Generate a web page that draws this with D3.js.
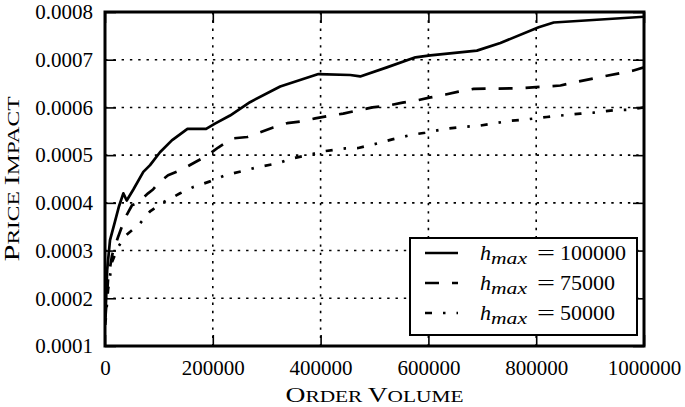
<!DOCTYPE html>
<html><head><meta charset="utf-8">
<script src="https://cdn.jsdelivr.net/npm/d3@7/dist/d3.min.js"></script>
<style>body{margin:0;background:#fff}svg{display:block}</style>
</head><body>
<svg id="chart" width="685" height="407"></svg>
<script>
// ---- data ----
const xTickValues = [0, 200000, 400000, 600000, 800000, 1000000];
const yTickValues = [0.0001, 0.0002, 0.0003, 0.0004, 0.0005, 0.0006, 0.0007, 0.0008];
const seriesNames = ["100000", "75000", "50000"];

const volume100k = [500, 2000, 4000, 9300, 18600, 26000, 34000, 40300, 52600, 71100, 83600, 102000, 124000, 153000, 187600, 204000, 232000, 269000, 325000, 396000, 455000, 473500, 523000, 576000, 603500, 690000, 733500, 804600, 832500, 1000000];
const impact100k = [0.000160, 0.000196, 0.000259, 0.000322, 0.000361, 0.000393, 0.000420, 0.000405, 0.000428, 0.000465, 0.000479, 0.000506, 0.000531, 0.000555, 0.000555, 0.000566, 0.000583, 0.000611, 0.000644, 0.000670, 0.000668, 0.000665, 0.000684, 0.000705, 0.000709, 0.000719, 0.000735, 0.000768, 0.000778, 0.000790];

const volume75k = [500, 5600, 13000, 24100, 31600, 40900, 50100, 59400, 79900, 89100, 98400, 117000, 143000, 167000, 191000, 210000, 236000, 264000, 288000, 312000, 338000, 366000, 390000, 418000, 442000, 470000, 496000, 526000, 552000, 580000, 604000, 632000, 656000, 684000, 765000, 821000, 845000, 873000, 925000, 979000, 1000000];
const impact75k = [0.000154, 0.000238, 0.000290, 0.000328, 0.000351, 0.000376, 0.000395, 0.000399, 0.000420, 0.000428, 0.000441, 0.000458, 0.000470, 0.000485, 0.000500, 0.000516, 0.000535, 0.000538, 0.000548, 0.000558, 0.000567, 0.000571, 0.000577, 0.000583, 0.000587, 0.000594, 0.000600, 0.000604, 0.000610, 0.000615, 0.000621, 0.000627, 0.000633, 0.000639, 0.000640, 0.000644, 0.000646, 0.000653, 0.000665, 0.000677, 0.000684];

const volume50k = [500, 5600, 13000, 24100, 39000, 65000, 83600, 107700, 139300, 163400, 195000, 223000, 260000, 284000, 321000, 347000, 384000, 405000, 446000, 470000, 507000, 533000, 570000, 594000, 631000, 655000, 696000, 719000, 752000, 783000, 820000, 845000, 882000, 906000, 943000, 969000, 1000000];
const impact50k = [0.000144, 0.000217, 0.000276, 0.000307, 0.000332, 0.000357, 0.000382, 0.000401, 0.000420, 0.000433, 0.000445, 0.000458, 0.000468, 0.000475, 0.000483, 0.000493, 0.000502, 0.000508, 0.000514, 0.000515, 0.000525, 0.000533, 0.000543, 0.000547, 0.000555, 0.000558, 0.000562, 0.000566, 0.000572, 0.000575, 0.000580, 0.000583, 0.000587, 0.000589, 0.000594, 0.000595, 0.000600];

// ---- layout ----
const L = 105, R = 644, T = 12, B = 346;
const svg = d3.select("#chart");
const x = d3.scaleLinear().domain([0, 1000000]).range([L, R]);
const y = d3.scaleLinear().domain([0.0001, 0.0008]).range([B, T]);
const font = "'Liberation Serif', 'Times New Roman', serif";

const series = [
  {name: seriesNames[0], vol: volume100k, imp: impact100k, dash: null},
  {name: seriesNames[1], vol: volume75k, imp: impact75k, dash: "14,13"},
  {name: seriesNames[2], vol: volume50k, imp: impact50k, dash: "7,11,2.5,11"}
];

// grid
const grid = svg.append("g");
grid.selectAll(".gx").data(xTickValues.slice(1, -1)).enter().append("line")
  .attr("x1", d => x(d)).attr("x2", d => x(d)).attr("y1", T).attr("y2", B)
  .attr("stroke", "#000").attr("stroke-width", 1.6).attr("stroke-dasharray", "2.4,5.9");
grid.selectAll(".gy").data(yTickValues.slice(1, -1)).enter().append("line")
  .attr("y1", d => y(d)).attr("y2", d => y(d)).attr("x1", L).attr("x2", R)
  .attr("stroke", "#000").attr("stroke-width", 1.6).attr("stroke-dasharray", "2.4,5.9");

// clip
svg.append("clipPath").attr("id", "clip").append("rect")
  .attr("x", L).attr("y", T).attr("width", R - L).attr("height", B - T);

const line = d3.line().x(d => x(d[0])).y(d => y(d[1]));
const lines = svg.append("g").attr("clip-path", "url(#clip)");
series.forEach(s => {
  const pts = s.vol.map((v, i) => [v, s.imp[i]]);
  lines.append("path").datum(pts).attr("d", line)
    .attr("fill", "none").attr("stroke", "#000").attr("stroke-width", 2.7)
    .attr("stroke-linejoin", "round")
    .attr("stroke-dasharray", s.dash);
});

// axes with inward ticks, labels
const axL = d3.axisLeft(y).tickValues(yTickValues).tickSize(-11).tickPadding(12).tickFormat(d3.format(".4f"));
const axR = d3.axisRight(y).tickValues(yTickValues).tickSize(-11).tickFormat("");
const axB = d3.axisBottom(x).tickValues(xTickValues).tickSize(-11).tickPadding(14).tickFormat(d3.format("d"));
const axT = d3.axisTop(x).tickValues(xTickValues).tickSize(-11).tickFormat("");
function styleAxis(g) {
  g.select(".domain").remove();
  g.selectAll(".tick line").attr("stroke", "#000").attr("stroke-width", 1.6);
  g.selectAll("text").attr("font-family", font).attr("font-size", 21).attr("fill", "#000");
}
svg.append("g").attr("transform", `translate(${L},0)`).call(axL).call(styleAxis);
svg.append("g").attr("transform", `translate(${R},0)`).call(axR).call(styleAxis);
svg.append("g").attr("transform", `translate(0,${B})`).call(axB).call(styleAxis);
svg.append("g").attr("transform", `translate(0,${T})`).call(axT).call(styleAxis);

// frame
svg.append("rect").attr("x", L).attr("y", T).attr("width", R - L).attr("height", B - T)
  .attr("fill", "none").attr("stroke", "#000").attr("stroke-width", 3);

// axis titles (small caps)
function smallCaps(t, parts) {
  parts.forEach(p => t.append("tspan").attr("font-size", p[1]).text(p[0]));
}
const xt = svg.append("text").attr("x", (L + R) / 2).attr("y", 402)
  .attr("text-anchor", "middle").attr("font-family", font).attr("fill", "#000")
  .attr("textLength", 178).attr("lengthAdjust", "spacingAndGlyphs");
smallCaps(xt, [["O", 22], ["RDER ", 17], ["V", 22], ["OLUME", 17]]);
const yt = svg.append("text").attr("transform", `translate(19,${(T + B) / 2}) rotate(-90)`)
  .attr("text-anchor", "middle").attr("font-family", font).attr("fill", "#000")
  .attr("textLength", 165).attr("lengthAdjust", "spacingAndGlyphs");
smallCaps(yt, [["P", 22], ["RICE ", 17], ["I", 22], ["MPACT", 17]]);

// legend
const lg = svg.append("g");
lg.append("rect").attr("x", 410).attr("y", 238).attr("width", 227).attr("height", 97)
  .attr("fill", "#fff").attr("stroke", "#000").attr("stroke-width", 2);
series.forEach((s, i) => {
  const ly = 253 + i * 30;
  lg.append("line").attr("x1", 425).attr("x2", 458).attr("y1", ly).attr("y2", ly)
    .attr("stroke", "#000").attr("stroke-width", 2.7).attr("stroke-dasharray", s.dash);
  const yb = ly + 7;
  lg.append("text").attr("x", 480).attr("y", yb).attr("font-family", font).attr("fill", "#000")
    .attr("font-size", 22).attr("font-style", "italic").text("h");
  lg.append("text").attr("x", 491).attr("y", yb + 4).attr("font-family", font).attr("fill", "#000")
    .attr("font-size", 16).attr("font-style", "italic")
    .attr("textLength", 36).attr("lengthAdjust", "spacingAndGlyphs").text("max");
  lg.append("text").attr("x", 537).attr("y", yb).attr("font-family", font).attr("fill", "#000")
    .attr("font-size", 22).attr("textLength", 18).attr("lengthAdjust", "spacingAndGlyphs").text("=");
  lg.append("text").attr("x", 560).attr("y", yb).attr("font-family", font).attr("fill", "#000")
    .attr("font-size", 22).text(s.name);
});
</script>
</body></html>
